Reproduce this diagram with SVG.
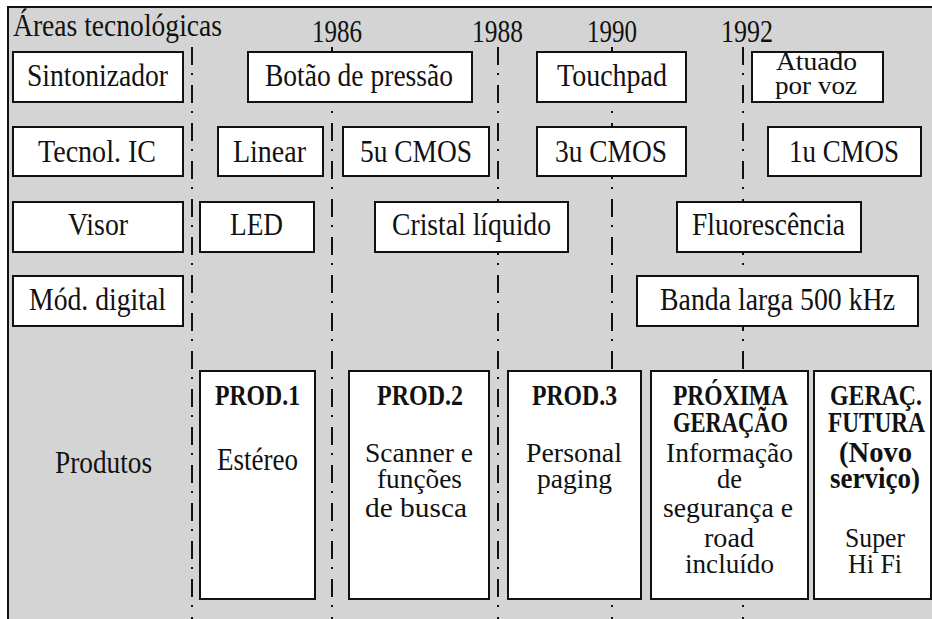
<svg xmlns="http://www.w3.org/2000/svg" width="932" height="619" viewBox="0 0 932 619">
  <style>
    .bx { fill: #ffffff; stroke: #111111; stroke-width: 2; }
    .t { font-family: "Liberation Serif", "Times New Roman", serif; font-size: 31px; fill: #111111; }
    .s { font-size: 26px; }
    .p { font-size: 28px; }
    .e { font-size: 31px; }
    .h { font-family: "Liberation Serif", "Times New Roman", serif; font-size: 30px; font-weight: bold; fill: #111111; }
    .tl { stroke: #111111; stroke-width: 2; stroke-dasharray: 18 8 2 10; fill: none; }
  </style>

  <!-- panel background and frame -->
  <rect x="8" y="7" width="940" height="620" fill="#d4d4d4" stroke="#111111" stroke-width="2"/>

  <!-- header and year marks -->
  <g id="header">
    <text class="t" x="13" y="36" textLength="209" lengthAdjust="spacingAndGlyphs">Áreas tecnológicas</text>
    <text class="t" x="312" y="42" textLength="50" lengthAdjust="spacingAndGlyphs">1986</text>
    <text class="t" x="472" y="42" textLength="51" lengthAdjust="spacingAndGlyphs">1988</text>
    <text class="t" x="587" y="42" textLength="50" lengthAdjust="spacingAndGlyphs">1990</text>
    <text class="t" x="721" y="42" textLength="52" lengthAdjust="spacingAndGlyphs">1992</text>
  </g>

  <!-- timeline dividers -->
  <g id="connectors">
    <line class="tl" x1="192" y1="47" x2="192" y2="619"/>
    <line class="tl" x1="332" y1="47" x2="332" y2="619"/>
    <line class="tl" x1="498" y1="47" x2="498" y2="619"/>
    <line class="tl" x1="612" y1="47" x2="612" y2="619"/>
    <line class="tl" x1="743" y1="47" x2="743" y2="619"/>
  </g>

  <!-- row 1: tuner -->
  <g id="sintonizador">
    <rect class="bx" x="13" y="52" width="170" height="50"/>
    <text class="t" x="27" y="86" textLength="141" lengthAdjust="spacingAndGlyphs">Sintonizador</text>
  </g>
  <g id="botao">
    <rect class="bx" x="248" y="52" width="224" height="50"/>
    <text class="t" x="265" y="86" textLength="188" lengthAdjust="spacingAndGlyphs">Botão de pressão</text>
  </g>
  <g id="touchpad">
    <rect class="bx" x="537" y="52" width="149" height="50"/>
    <text class="t" x="557" y="86" textLength="110" lengthAdjust="spacingAndGlyphs">Touchpad</text>
  </g>
  <g id="voz">
    <rect class="bx" x="752" y="52" width="131" height="50"/>
    <text class="t s" x="776" y="70" textLength="81" lengthAdjust="spacingAndGlyphs">Atuado</text>
    <text class="t s" x="775" y="94" textLength="82" lengthAdjust="spacingAndGlyphs">por voz</text>
  </g>

  <!-- row 2: IC technology -->
  <g id="tecnol">
    <rect class="bx" x="13" y="127" width="170" height="49"/>
    <text class="t" x="38" y="162" textLength="118" lengthAdjust="spacingAndGlyphs">Tecnol. IC</text>
  </g>
  <g id="linear">
    <rect class="bx" x="218" y="127" width="105" height="49"/>
    <text class="t" x="233" y="162" textLength="73" lengthAdjust="spacingAndGlyphs">Linear</text>
  </g>
  <g id="cmos5">
    <rect class="bx" x="343" y="127" width="146" height="49"/>
    <text class="t" x="360" y="162" textLength="112" lengthAdjust="spacingAndGlyphs">5u CMOS</text>
  </g>
  <g id="cmos3">
    <rect class="bx" x="537" y="127" width="149" height="49"/>
    <text class="t" x="555" y="162" textLength="112" lengthAdjust="spacingAndGlyphs">3u CMOS</text>
  </g>
  <g id="cmos1">
    <rect class="bx" x="768" y="127" width="153" height="49"/>
    <text class="t" x="789" y="162" textLength="110" lengthAdjust="spacingAndGlyphs">1u CMOS</text>
  </g>

  <!-- row 3: display -->
  <g id="visor">
    <rect class="bx" x="13" y="202" width="170" height="50"/>
    <text class="t" x="68" y="235" textLength="60" lengthAdjust="spacingAndGlyphs">Visor</text>
  </g>
  <g id="led">
    <rect class="bx" x="200" y="202" width="114" height="50"/>
    <text class="t" x="230" y="235" textLength="53" lengthAdjust="spacingAndGlyphs">LED</text>
  </g>
  <g id="cristal">
    <rect class="bx" x="375" y="202" width="193" height="50"/>
    <text class="t" x="392" y="235" textLength="159" lengthAdjust="spacingAndGlyphs">Cristal líquido</text>
  </g>
  <g id="fluor">
    <rect class="bx" x="677" y="202" width="184" height="50"/>
    <text class="t" x="692" y="235" textLength="153" lengthAdjust="spacingAndGlyphs">Fluorescência</text>
  </g>

  <!-- row 4: digital modulation -->
  <g id="modulacao">
    <rect class="bx" x="13" y="276" width="170" height="50"/>
    <text class="t" x="29" y="310" textLength="137" lengthAdjust="spacingAndGlyphs">Mód. digital</text>
  </g>
  <g id="banda">
    <rect class="bx" x="637" y="276" width="281" height="50"/>
    <text class="t" x="660" y="310" textLength="235" lengthAdjust="spacingAndGlyphs">Banda larga 500 kHz</text>
  </g>

  <!-- products row -->
  <g id="produtos">
    <text class="t" x="55" y="473" textLength="97" lengthAdjust="spacingAndGlyphs">Produtos</text>
  </g>
  <g id="prod1">
    <rect class="bx" x="200" y="371" width="115" height="228"/>
    <text class="h" x="215" y="405" textLength="85" lengthAdjust="spacingAndGlyphs">PROD.1</text>
    <text class="t e" x="217" y="470" textLength="81" lengthAdjust="spacingAndGlyphs">Estéreo</text>
  </g>
  <g id="prod2">
    <rect class="bx" x="349" y="371" width="140" height="228"/>
    <text class="h" x="377" y="405" textLength="86" lengthAdjust="spacingAndGlyphs">PROD.2</text>
    <text class="t p" x="365" y="462" textLength="108" lengthAdjust="spacingAndGlyphs">Scanner e</text>
    <text class="t p" x="377" y="488" textLength="85" lengthAdjust="spacingAndGlyphs">funções</text>
    <text class="t p" x="365" y="517" textLength="102" lengthAdjust="spacingAndGlyphs">de busca</text>
  </g>
  <g id="prod3">
    <rect class="bx" x="508" y="371" width="133" height="228"/>
    <text class="h" x="532" y="405" textLength="85" lengthAdjust="spacingAndGlyphs">PROD.3</text>
    <text class="t p" x="526" y="462" textLength="96" lengthAdjust="spacingAndGlyphs">Personal</text>
    <text class="t p" x="537" y="488" textLength="75" lengthAdjust="spacingAndGlyphs">paging</text>
  </g>
  <g id="proxima">
    <rect class="bx" x="651" y="371" width="157" height="228"/>
    <text class="h" x="673" y="405" textLength="115" lengthAdjust="spacingAndGlyphs">PRÓXIMA</text>
    <text class="h" x="673" y="432" textLength="115" lengthAdjust="spacingAndGlyphs">GERAÇÃO</text>
    <text class="t p" x="666" y="462" textLength="127" lengthAdjust="spacingAndGlyphs">Informação</text>
    <text class="t p" x="717" y="488" textLength="25" lengthAdjust="spacingAndGlyphs">de</text>
    <text class="t p" x="663" y="517" textLength="130" lengthAdjust="spacingAndGlyphs">segurança e</text>
    <text class="t p" x="704" y="547" textLength="50" lengthAdjust="spacingAndGlyphs">road</text>
    <text class="t p" x="685" y="573" textLength="89" lengthAdjust="spacingAndGlyphs">incluído</text>
  </g>
  <g id="futura">
    <rect class="bx" x="814" y="371" width="117" height="228"/>
    <text class="h" x="830" y="405" textLength="92" lengthAdjust="spacingAndGlyphs">GERAÇ.</text>
    <text class="h" x="828" y="432" textLength="97" lengthAdjust="spacingAndGlyphs">FUTURA</text>
    <text class="h" x="839" y="462" textLength="73" lengthAdjust="spacingAndGlyphs">(Novo</text>
    <text class="h" x="830" y="488" textLength="90" lengthAdjust="spacingAndGlyphs">serviço)</text>
    <text class="t p" x="845" y="547" textLength="60" lengthAdjust="spacingAndGlyphs">Super</text>
    <text class="t p" x="848" y="573" textLength="54" lengthAdjust="spacingAndGlyphs">Hi Fi</text>
  </g>
</svg>
